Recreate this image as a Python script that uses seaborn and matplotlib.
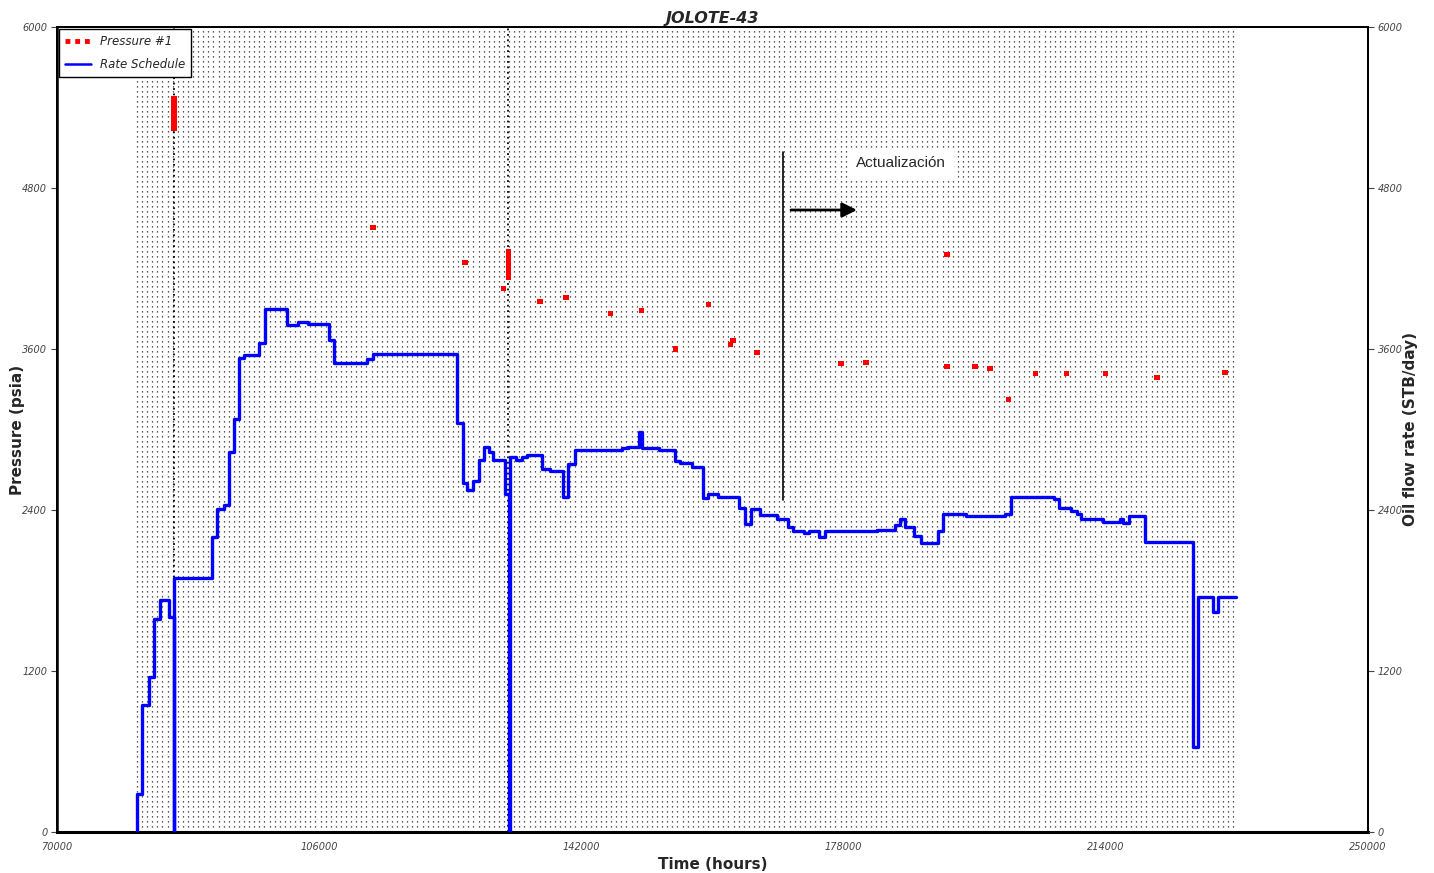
import numpy as np
import pandas as pd
import matplotlib
matplotlib.use("Agg")
import matplotlib.pyplot as plt
import seaborn as sns
from matplotlib.lines import Line2D

# ---------------- data ----------------
rate_time = [80984, 80984, 81739, 82700, 83250, 84074, 85378, 86064, 86110, 91213,
             91968, 92929, 93616, 94343, 94989, 95675, 97776, 98558, 101538, 103049,
             104504, 107387, 108033, 112523, 113429, 124920, 125703, 126252, 127076, 127982,
             128669, 129355, 129905, 131510, 132101, 132170, 133020, 133803, 134572, 136550,
             137690, 139433, 140202, 141122, 147534, 148440, 149950, 150280, 152696, 154852,
             155538, 157145, 158683, 159369, 160742, 163584, 164408, 165246, 166523, 168829,
             170299, 171040, 172509, 173237, 174569, 175448, 182560, 185004, 185745, 186487,
             187709, 188684, 190895, 191636, 194808, 200163, 200945, 206836, 207563, 209280,
             210021, 210653, 213605, 215898, 216392, 217134, 219330, 225975, 226662, 228721,
             229408, 231880]
rate_value = [0, 280, 947, 1155, 1588, 1729, 1602, 0, 1893, 2199,
              2407, 2437, 2832, 3078, 3533, 3555, 3645, 3898, 3779, 3801,
              3786, 3667, 3495, 3525, 3563, 3048, 2601, 2549, 2616, 2773,
              2870, 2832, 2773, 2519, 0, 2795, 2773, 2795, 2810, 2705,
              2691, 2497, 2743, 2847, 2862, 2869, 2978, 2862, 2847, 2765,
              2750, 2720, 2489, 2519, 2497, 2415, 2296, 2407, 2363, 2333,
              2273, 2243, 2228, 2243, 2199, 2243, 2251, 2288, 2333, 2273,
              2206, 2154, 2243, 2370, 2355, 2370, 2497, 2482, 2415, 2392,
              2370, 2333, 2310, 2333, 2303, 2355, 2161, 634, 1751, 1640,
              1751, 1751]

pressure_time = [86064, 86064, 86064, 86064, 86064, 86064, 86064, 86064, 86064, 86064,
                 113387, 126018, 131280,
                 131923, 131923, 131923, 131923, 131923, 131923, 131923, 131923, 131923,
                 136316, 139886, 145930, 150184, 154852, 159384, 162815, 162500, 166110,
                 177643, 181076, 192197, 192197, 196041, 198101, 200573, 204280, 208536,
                 213891, 221030, 230366]
pressure_value = [5470, 5445, 5420, 5395, 5370, 5345, 5320, 5295, 5270, 5245,
                  4502, 4248, 4054,
                  4330, 4305, 4280, 4255, 4230, 4205, 4180, 4155, 4130,
                  3957, 3985, 3866, 3890, 3600, 3928, 3660, 3635, 3577,
                  3495, 3503, 4308, 3473, 3473, 3451, 3220, 3421, 3421,
                  3421, 3391, 3428]

x_ticks = [70000, 106000, 142000, 178000, 214000, 250000]
y_ticks = [0, 1200, 2400, 3600, 4800, 6000]
x_range = (70000, 250000)
y_range = (0, 6000)
grid_step_hours = 700

# annotation (update marker)
update_time = 169680
update_span = (2474, 5068)
arrow_from = (170778, 4636)
arrow_to = (179840, 4636)
update_text_pos = (179702, 4986)

rate_df = pd.DataFrame({"Time": rate_time, "Rate": rate_value})
press_df = pd.DataFrame({"Time": pressure_time, "Pressure": pressure_value})

# ---------------- style ----------------
sns.set_style("white")
plt.rcParams["font.family"] = ["DejaVu Sans"]

fig = plt.figure(figsize=(14.34, 8.73), dpi=100)
ax = fig.add_axes([57 / 1434, 1 - 832 / 873, (1368 - 57) / 1434, (832 - 27) / 873])
ax2 = ax.twinx()

# dense dotted time-step grid
grid_x = np.arange(rate_time[0], rate_time[-1] + 1, grid_step_hours)
ax.vlines(grid_x, y_range[0], y_range[1], colors="#222222",
          linestyles=(0, (1, 3)), linewidth=0.9, zorder=1)
# darker lines at pressure test clusters
vc = press_df["Time"].value_counts()
ax.vlines(vc[vc > 3].index.values, y_range[0], y_range[1], colors="black",
          linestyles=(0, (1, 2)), linewidth=1.3, zorder=1)

# pressure points
sns.scatterplot(data=press_df, x="Time", y="Pressure", ax=ax, color="red",
                marker="s", s=13, edgecolor="none", zorder=3, legend=False)

# rate schedule
sns.lineplot(data=rate_df, x="Time", y="Rate", ax=ax2, color="#0000ff",
             linewidth=2.4, drawstyle="steps-post", estimator=None, sort=False,
             legend=False, zorder=4)

for a in (ax, ax2):
    a.set_xlim(*x_range)
    a.set_ylim(*y_range)
    a.set_yticks(y_ticks)
ax.set_xticks(x_ticks)

tick_font = dict(fontsize=7, fontstyle="italic", color="#444444")
ax.set_xticklabels([str(v) for v in x_ticks], **tick_font)
ax.set_yticklabels([str(v) for v in y_ticks], **tick_font)
ax2.set_yticklabels([str(v) for v in y_ticks], **tick_font)
ax.tick_params(axis="both", direction="out", length=4, width=0.8, pad=3, color="#444444")
ax2.tick_params(axis="y", direction="out", length=4, width=0.8, pad=3, color="#444444")

for a in (ax, ax2):
    for side in ("left", "right", "top", "bottom"):
        a.spines[side].set_visible(True)
        a.spines[side].set_color("black")
        a.spines[side].set_linewidth(1.4)
ax.spines["bottom"].set_linewidth(2.2)
ax.spines["left"].set_linewidth(1.8)

ax.set_title("JOLOTE-43", fontsize=11.5, fontstyle="italic", fontweight="bold", pad=3)
ax.set_xlabel("Time (hours)", fontsize=11, fontweight="bold", labelpad=4)
ax.set_ylabel("Pressure (psia)", fontsize=11, fontweight="bold")
ax.yaxis.set_label_coords(-0.0244, 0.5)
ax2.set_ylabel("Oil flow rate (STB/day)", fontsize=11, fontweight="bold")
ax2.yaxis.set_label_coords(1.0267, 0.5)

# annotation
ax2.plot([update_time, update_time], list(update_span), color="black", lw=1.2, zorder=5)
ax2.annotate("", xy=arrow_to, xytext=arrow_from,
             arrowprops=dict(arrowstyle="-|>", color="black", lw=2, mutation_scale=22,
                             shrinkA=0, shrinkB=0), zorder=5)
ax2.text(*update_text_pos, "Actualización", fontsize=11, family="Liberation Sans",
         ha="left", va="center", zorder=6,
         bbox=dict(facecolor="white", edgecolor="none", pad=6))

# legend
handles = [Line2D([0], [0], color="red", linestyle=(0, (1, 1)), linewidth=3.5),
           Line2D([0], [0], color="#0000ff", linewidth=1.8)]
leg = ax2.legend(handles, ["Pressure #1", "Rate Schedule"], loc="upper left",
                 bbox_to_anchor=(0.0, 1.0), borderaxespad=0.15, frameon=True,
                 fancybox=False, framealpha=1, edgecolor="black",
                 prop=dict(size=8.5, style="italic"), handlelength=2.2,
                 labelspacing=0.9, borderpad=0.5)
leg.get_frame().set_linewidth(1.0)
leg.set_zorder(10)

fig.savefig("out.png", dpi=100)
